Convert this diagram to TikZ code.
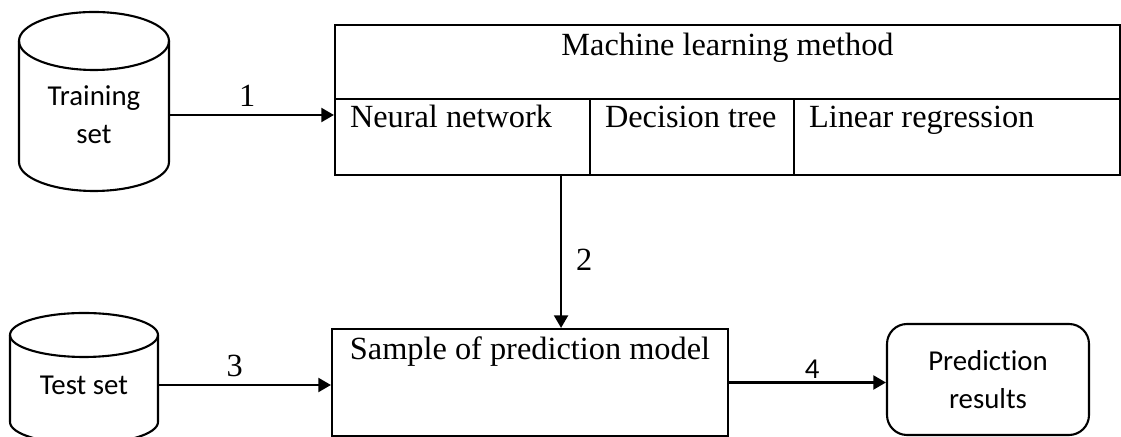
\documentclass[tikz,border=0pt]{standalone}
\usepackage{fontspec}
\setmainfont{Liberation Serif}
\newfontfamily\calibri[Ligatures={NoCommon,NoRare}]{Carlito}
\usetikzlibrary{arrows.meta}

\begin{document}
\begin{tikzpicture}[
    line width=1.5pt,
    cell/.style={draw, rectangle, inner sep=0pt},
    txt/.style={font=\fontsize{23}{27}\selectfont, inner sep=0pt},
    sans/.style={font=\calibri\fontsize{20.5}{27}\selectfont, align=center},
    num/.style={font=\fontsize{23}{27}\selectfont, inner sep=2pt},
    arr/.style={-{Triangle[length=9pt,width=10pt]}}
]
            \useasboundingbox (0,0) rectangle (28.025,10.925);
            % Training set
            \draw (0.475,9.9) -- (0.475,6.875) arc[start angle=180, end angle=360, x radius=1.875, y radius=0.725] -- (4.225,9.9);
            \draw (2.35,9.9) ellipse[x radius=1.875, y radius=0.725];
            \node[sans, minimum width=3.75cm] (train) at (2.35,8.05) {Training\\set};
            % Test set
            \draw (0.25,2.55) -- (0.25,0.375) arc[start angle=180, end angle=360, x radius=1.85, y radius=0.55] -- (3.95,2.55);
            \draw (2.1,2.55) ellipse[x radius=1.85, y radius=0.55];
            \node[sans, minimum width=3.7cm] (test) at (2.1,1.3) {Test set};
            % Machine learning method
            \node[cell, minimum width=19.625cm, minimum height=1.85cm] (ml) at (18.1875,9.375) {};
            \node[cell, minimum width=6.375cm, minimum height=1.9cm] (nn) at (11.5625,7.5) {};
            \node[cell, minimum width=5.1cm, minimum height=1.9cm] (dt) at (17.3,7.5) {};
            \node[cell, minimum width=8.15cm, minimum height=1.9cm] (lr) at (23.925,7.5) {};
            \node[txt, anchor=base] (mltxt) at ([yshift=-0.78cm]ml.north) {Machine learning method};
            \node[txt, anchor=base west] (nntxt) at ([shift={(0.375,-0.75)}]nn.north west) {Neural network};
            \node[txt, anchor=base west] (dttxt) at ([shift={(0.375,-0.75)}]dt.north west) {Decision tree};
            \node[txt, anchor=base west] (lrtxt) at ([shift={(0.375,-0.75)}]lr.north west) {Linear regression};
            % Model and results
            \node[cell, minimum width=9.9cm, minimum height=2.675cm] (sample) at (13.25,1.3625) {};
            \node[txt, anchor=base] (sampletxt) at ([yshift=-0.78cm]sample.north) {Sample of prediction model};
            \node[sans, draw, rounded corners=0.5cm, minimum width=5.05cm, minimum height=2.775cm] (pred) at (24.7,1.4375) {Prediction\\results};
            % Arrows
            \coordinate (down) at ([xshift=-0.75cm]nn.south east);
            \draw[arr] (train.east) -- (train.east -| ml.west) node[num, pos=0.47, above=3pt] {1};
            \draw[arr] (down) -- (down |- sample.north) node[num, pos=0.55, right=8pt] {2};
            \draw[arr] (test.east) -- (test.east -| sample.west) node[num, pos=0.44, above=3pt] {3};
            \draw[arr] (sample.east) -- (sample.east -| pred.west) node[sans, inner sep=2pt, pos=0.53, above=0pt] {4};
        \end{tikzpicture}
\end{document}
